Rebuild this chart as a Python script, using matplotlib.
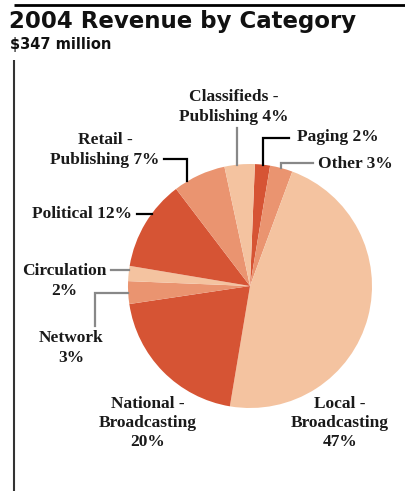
import math

import matplotlib
matplotlib.use("Agg")
import matplotlib.pyplot as plt

# ── data ──────────────────────────────────────────────────────────────────────
CATEGORIES = ["Paging", "Other", "Local - Broadcasting", "National - Broadcasting",
              "Network", "Circulation", "Political", "Retail - Publishing",
              "Classifieds - Publishing"]
SHARES = [2, 3, 47, 20, 3, 2, 12, 7, 4]
LABELS = ["Paging 2%", "Other 3%", "Local -\nBroadcasting\n47%",
          "National -\nBroadcasting\n20%", "Network\n3%", "Circulation\n2%",
          "Political 12%", "Retail -\nPublishing 7%", "Classifieds -\nPublishing 4%"]

TITLE = "2004 Revenue by Category"
SUBTITLE = "$347 million"

# ── style / layout (pixels, origin top-left) ──────────────────────────────────
W, H = 406, 491
CX, CY, R = 250, 286, 122
DARK, MID, LIGHT = "#d65434", "#ea9470", "#f4c3a0"
COLORS = [DARK, MID, LIGHT, DARK, MID, LIGHT, DARK, MID, LIGHT]
SERIF = "Liberation Serif"

# text: (x, y, ha); leader: (fraction inside wedge, path after anchor, colour)
# path entries: "ax"/"ay" reuse the anchor coordinate
LAYOUT = {
    "Paging":      ((297, 137, "left"), (0.5, [("ax", 138), (289, 138)], "black")),
    "Other":       ((318, 164, "left"), (0.5, [("ax", 163), (313, 163)], "#888888")),
    "Local - Broadcasting":    ((340, 423, "center"), None),
    "National - Broadcasting": ((148, 423, "center"), None),
    "Network":     ((71, 348, "center"), (0.5, [(95, "ay"), (95, 326)], "#888888")),
    "Circulation": ((64, 281, "center"), (0.7, [(111, "ay")], "#888888")),
    "Political":   ((82, 214, "center"), (0.62, [(137, "ay")], "black")),
    "Retail - Publishing":      ((105, 150, "center"), (0.25, [("ax", 159), (164, 159)], "black")),
    "Classifieds - Publishing": ((234, 107, "center"), (0.42, [("ax", 128)], "#888888")),
}

START = 87.7  # degrees, wedges run clockwise

fig = plt.figure(figsize=(W / 100, H / 100), dpi=100)
fig.patch.set_facecolor("white")

# pie axes placed so that the circle sits at CX, CY with radius R
pie_ax = fig.add_axes([(CX - R) / W, (H - CY - R) / H, 2 * R / W, 2 * R / H])
wedges, _ = pie_ax.pie(SHARES, colors=COLORS, startangle=START, counterclock=False,
                       radius=1, wedgeprops={"linewidth": 0})
pie_ax.set_xlim(-1, 1)
pie_ax.set_ylim(-1, 1)
pie_ax.set_aspect("auto")
pie_ax.axis("off")

# overlay in pixel coordinates for rules, titles and labels
ov = fig.add_axes([0, 0, 1, 1], zorder=5)
ov.set_xlim(0, W)
ov.set_ylim(H, 0)
ov.axis("off")
ov.patch.set_alpha(0)

ov.plot([14, W], [5, 5], color="black", lw=2, solid_capstyle="butt")
ov.plot([14, 14], [60, H], color="#333333", lw=1.5, solid_capstyle="butt")

ov.text(9, 21, TITLE, fontsize=16.5, fontweight="bold", family="DejaVu Sans",
        ha="left", va="center", color="#111111")
ov.text(10, 44, SUBTITLE, fontsize=10.5, fontweight="bold", family="DejaVu Sans",
        ha="left", va="center", color="#111111")

for cat, lab, w in zip(CATEGORIES, LABELS, wedges):
    (tx, ty, ha), leader = LAYOUT[cat]
    ov.text(tx, ty, lab, family=SERIF, fontweight="bold", fontsize=12.5,
            ha=ha, va="center", multialignment="center", linespacing=1.27,
            color="#1a1a1a")
    if leader is None:
        continue
    frac, path, col = leader
    t1, t2 = sorted((w.theta1, w.theta2))
    # fraction is measured clockwise from the wedge's leading edge
    ang = math.radians(t2 - frac * (t2 - t1))
    axp, ayp = CX + R * math.cos(ang), CY - R * math.sin(ang)
    xs, ys = [axp], [ayp]
    for px, py in path:
        xs.append(axp if px == "ax" else px)
        ys.append(ayp if py == "ay" else py)
    ov.plot(xs, ys, color=col, lw=1.6, solid_joinstyle="miter")

fig.savefig("out.png", dpi=100, facecolor="white")
plt.close(fig)
